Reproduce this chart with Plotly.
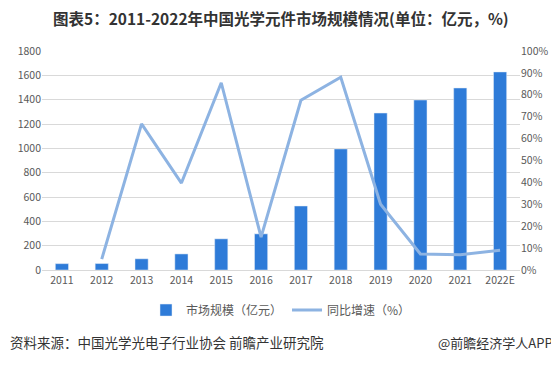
import plotly.graph_objects as go

years = ["2011", "2012", "2013", "2014", "2015", "2016", "2017", "2018", "2019", "2020", "2021", "2022E"]
market_size = [52, 53, 92, 132, 256, 297, 526, 995, 1290, 1397, 1496, 1628]
growth_years = ["2012", "2013", "2014", "2015", "2016", "2017", "2018", "2019", "2020", "2021", "2022E"]
growth_pct = [5.0, 66.7, 39.7, 85.5, 15.0, 77.5, 88.0, 30.0, 7.3, 7.0, 9.0]

left_ticks = [0, 200, 400, 600, 800, 1000, 1200, 1400, 1600, 1800]
right_ticks = [0, 10, 20, 30, 40, 50, 60, 70, 80, 90, 100]
right_labels = [f"{v}%" for v in right_ticks]

fig = go.Figure()
fig.add_trace(go.Bar(x=years, y=market_size, name="市场规模（亿元）",
                     marker_color="#2E7BD8", yaxis="y"))
fig.add_trace(go.Scatter(x=growth_years, y=growth_pct, name="同比增速（%）",
                         mode="lines", line=dict(color="#8DB3E2", width=3), yaxis="y2"))

font_family = "Noto Sans CJK SC, Microsoft YaHei, sans-serif"
fig.update_layout(
    width=551, height=359,
    margin=dict(l=34, r=39, t=43, b=97, autoexpand=False),
    paper_bgcolor="white", plot_bgcolor="white",
    font=dict(family=font_family, size=11, color="#595959"),
    bargap=0.67,
    showlegend=True,
    legend=dict(orientation="h", x=0.5, xanchor="center", y=-0.183, yanchor="middle",
                font=dict(size=12, color="#595959"), traceorder="normal",
                itemwidth=30),
    xaxis=dict(type="category", showgrid=False, showline=True, linecolor="#D9D9D9",
               ticks="", tickfont=dict(size=10.5, color="#595959"), automargin=False),
    yaxis=dict(range=[0, 1800], tickvals=left_ticks, gridcolor="#D9D9D9",
               zeroline=False, ticks="", tickfont=dict(size=10.5, color="#595959"),
               automargin=False),
    yaxis2=dict(range=[0, 100], tickvals=right_ticks, ticktext=right_labels,
                overlaying="y", side="right", showgrid=False, zeroline=False,
                ticks="", tickfont=dict(size=10.5, color="#595959"), automargin=False),
)

fig.add_annotation(text="<b>图表5：2011-2022年中国光学元件市场规模情况(单位：亿元，%)</b>",
                   xref="paper", yref="paper", x=0.5, y=1, yshift=33, xanchor="center", yanchor="middle",
                   showarrow=False, borderpad=0,
                   font=dict(size=15.5, color="#333333", family=font_family))
fig.add_annotation(text="资料来源：中国光学光电子行业协会 前瞻产业研究院",
                   xref="paper", yref="paper", x=0, xshift=-34, y=0, yshift=-72,
                   xanchor="left", yanchor="middle", showarrow=False,
                   font=dict(size=13.5, color="#333333", family=font_family))
fig.add_annotation(text="@前瞻经济学人APP",
                   xref="paper", yref="paper", x=1, xshift=35, y=0, yshift=-72,
                   xanchor="right", yanchor="middle", showarrow=False,
                   font=dict(size=13, color="#333333", family=font_family))

fig.write_html("out.html")
